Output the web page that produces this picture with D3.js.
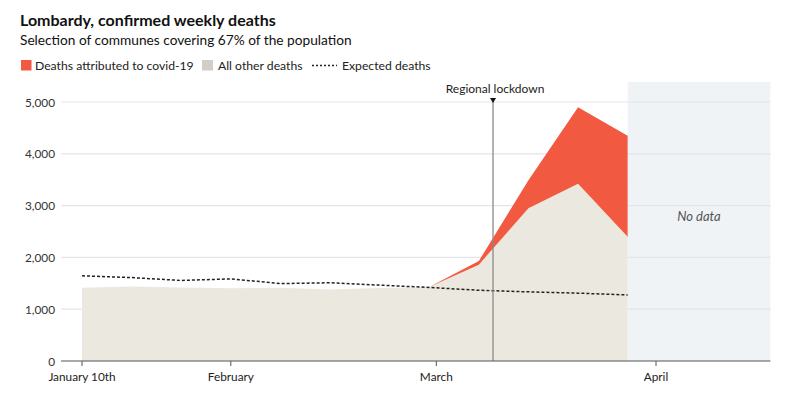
<!DOCTYPE html>
<html>
<head>
<meta charset="utf-8">
<script src="https://cdn.jsdelivr.net/npm/d3@7"></script>
<style>
  body { margin: 0; background: #fff; font-family: Lato, "Noto Sans", sans-serif; }
</style>
</head>
<body>
<div id="chart"></div>
<script>
const width = 803, height = 399;
const margin = {top: 82, right: 32, bottom: 38, left: 61};

// weekly data, Lombardy
const weeks = ["2020-01-11", "2020-01-18", "2020-01-25", "2020-02-01", "2020-02-08", "2020-02-15",
               "2020-02-22", "2020-02-29", "2020-03-07", "2020-03-14", "2020-03-21", "2020-03-28"];
const otherDeaths = [1415, 1440, 1420, 1405, 1415, 1380, 1410, 1430, 1860, 2950, 3420, 2400];
const covidDeaths = [0, 0, 0, 0, 0, 0, 0, 0, 70, 540, 1480, 1950];
const expectedDeaths = [1645, 1610, 1555, 1585, 1495, 1510, 1465, 1420, 1365, 1335, 1310, 1275];

const yTicks = [0, 1000, 2000, 3000, 4000, 5000];
const xTickDates = ["2020-01-11", "2020-02-01", "2020-03-01", "2020-04-01"];
const xTickLabels = ["January 10th", "February", "March", "April"];
const lockdownDate = "2020-03-09";
const noDataEnd = "2020-04-17";

const parse = d3.timeParse("%Y-%m-%d");

let data = weeks.map((w, i) => ({
    date: parse(w),
    other: otherDeaths[i],
    covid: covidDeaths[i],
    expected: expectedDeaths[i]
}));

let svg = d3.select("#chart")
    .append("svg")
    .attr("width", width)
    .attr("height", height);

let x = d3.scaleTime()
    .domain([parse("2020-01-11"), parse("2020-04-01")])
    .range([82, 656]);

let y = d3.scaleLinear()
    .domain([0, 5000])
    .range([height - margin.bottom, height - margin.bottom - 259]);

let xEnd = x(parse(noDataEnd)) + 1;
let lastX = x(data[data.length - 1].date);

// no data shading
svg.append("rect")
    .attr("x", lastX)
    .attr("y", margin.top)
    .attr("width", xEnd - lastX)
    .attr("height", y(0) - margin.top)
    .attr("fill", "#eff3f6");

// gridlines
svg.append("g")
    .selectAll("line")
    .data(yTicks.slice(1))
    .join("line")
    .attr("x1", margin.left)
    .attr("x2", xEnd)
    .attr("y1", d => y(d))
    .attr("y2", d => y(d))
    .attr("stroke", "#e2e6ea")
    .attr("stroke-width", 1.2);

// y labels
svg.append("g")
    .selectAll("text")
    .data(yTicks)
    .join("text")
    .attr("x", 55)
    .attr("y", d => y(d) + 4.5)
    .attr("text-anchor", "end")
    .style("font-size", "11.8px")
    .style("fill", "#333")
    .text(d => d3.format(",")(d));

// areas
let otherArea = d3.area()
    .x(d => x(d.date))
    .y0(y(0))
    .y1(d => y(d.other));

let covidArea = d3.area()
    .x(d => x(d.date))
    .y0(d => y(d.other))
    .y1(d => y(d.other + d.covid));

svg.append("path")
    .datum(data)
    .attr("d", otherArea)
    .attr("fill", "#ebe8e0");

let firstCovid = data.findIndex(d => d.covid > 0) - 1;
svg.append("path")
    .datum(data.slice(firstCovid))
    .attr("d", covidArea)
    .attr("fill", "#f15a40");

// expected deaths
svg.append("path")
    .datum(data)
    .attr("d", d3.line().x(d => x(d.date)).y(d => y(d.expected)))
    .attr("fill", "none")
    .attr("stroke", "#222")
    .attr("stroke-width", 1.5)
    .attr("stroke-dasharray", "3,2");

// lockdown marker
let lx = x(parse(lockdownDate));
svg.append("line")
    .attr("x1", lx).attr("x2", lx)
    .attr("y1", 100).attr("y2", y(0))
    .attr("stroke", "#8a8a8a")
    .attr("stroke-width", 1.3);

svg.append("path")
    .attr("d", `M${lx - 3},98 L${lx + 3},98 L${lx},103 Z`)
    .attr("fill", "#111");

svg.append("text")
    .attr("x", lx + 2)
    .attr("y", 93)
    .attr("text-anchor", "middle")
    .style("font-size", "12px")
    .style("fill", "#222")
    .text("Regional lockdown");

// no data label
svg.append("text")
    .attr("x", (lastX + xEnd) / 2)
    .attr("y", 221)
    .attr("text-anchor", "middle")
    .style("font-size", "13px")
    .style("font-style", "italic")
    .style("fill", "#555")
    .text("No data");

// x axis
svg.append("line")
    .attr("x1", margin.left).attr("x2", xEnd)
    .attr("y1", y(0)).attr("y2", y(0))
    .attr("stroke", "#555")
    .attr("stroke-width", 1.2);

let xt = svg.append("g")
    .selectAll("g")
    .data(xTickDates)
    .join("g")
    .attr("transform", d => `translate(${x(parse(d))},${y(0)})`);

xt.append("line")
    .attr("y1", 0).attr("y2", 5)
    .attr("stroke", "#555");

xt.append("text")
    .attr("y", 20)
    .attr("text-anchor", "middle")
    .style("font-size", "11.8px")
    .style("fill", "#222")
    .text((d, i) => xTickLabels[i]);

// title, subtitle
svg.append("text")
    .attr("x", 20).attr("y", 26)
    .style("font-size", "16px")
    .style("font-weight", "bold")
    .style("fill", "#111")
    .text("Lombardy, confirmed weekly deaths");

svg.append("text")
    .attr("x", 20).attr("y", 45)
    .style("font-size", "13.7px")
    .style("fill", "#111")
    .text("Selection of communes covering 67% of the population");

// legend
let legend = svg.append("g").style("font-size", "12.2px").style("fill", "#222");

legend.append("rect").attr("x", 21).attr("y", 60).attr("width", 10.5).attr("height", 10.5).attr("fill", "#f15a40");
legend.append("text").attr("x", 35).attr("y", 70).text("Deaths attributed to covid-19");

legend.append("rect").attr("x", 202).attr("y", 60).attr("width", 11).attr("height", 10.5).attr("fill", "#d0cec6");
legend.append("text").attr("x", 218).attr("y", 70).text("All other deaths");

legend.append("line")
    .attr("x1", 312).attr("x2", 337).attr("y1", 65.5).attr("y2", 65.5)
    .attr("stroke", "#222").attr("stroke-width", 1.5).attr("stroke-dasharray", "2,2");
legend.append("text").attr("x", 342).attr("y", 70).text("Expected deaths");
</script>
</body>
</html>
